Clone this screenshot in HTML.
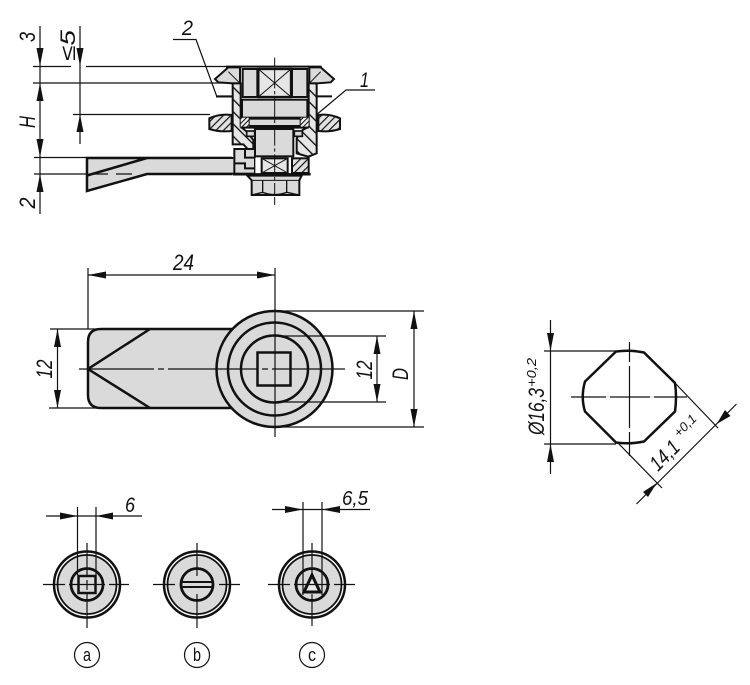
<!DOCTYPE html>
<html><head><meta charset="utf-8"><style>
html,body{margin:0;padding:0;background:#fff}
svg{display:block}
text{font-family:"Liberation Sans",sans-serif;font-style:italic;fill:#111}
.d{stroke:#111;stroke-width:1.2;fill:none}
.o{stroke:#111;stroke-width:2.5;fill:none}
.g{fill:#dadada;stroke:#111;stroke-width:2.5}
.a{fill:#111;stroke:none}
.c{stroke:#111;stroke-width:1.2;fill:none}
.m .g{stroke-width:6}
.m .k{stroke:#111;stroke-width:6;fill:none}
.m .t{stroke:#111;stroke-width:3;fill:none}
.m .h{stroke:#111;stroke-width:4;fill:none}
</style></head><body>
<svg width="750" height="685" viewBox="0 0 750 685" xmlns="http://www.w3.org/2000/svg">
<defs>
<pattern id="ha" width="26" height="26" patternUnits="userSpaceOnUse" patternTransform="rotate(-45)"><rect width="26" height="26" fill="#e6e6e6"/><rect width="4" height="26" fill="#111"/></pattern>
<pattern id="hs" width="10" height="10" patternUnits="userSpaceOnUse" patternTransform="rotate(45)"><rect width="10" height="10" fill="#eee"/><rect width="3" height="10" fill="#111"/></pattern>
<pattern id="hb" width="16" height="16" patternUnits="userSpaceOnUse" patternTransform="rotate(45)"><rect width="16" height="16" fill="#e2e2e2"/><rect width="3.500" height="16" fill="#111"/></pattern>
</defs>

<!-- TOP VIEW dimensions -->
<path class="d" d="M40 26V214M33 66.500H71M86 66.500H320M33 83H226M34 157.500H232M34 174H90M80 26V144M73 114.500H210"/>
<polygon class="a" points="40,66 36.500,48 43.500,48"/><polygon class="a" points="40,83 36.500,101 43.500,101"/>
<polygon class="a" points="40,157 36.500,139 43.500,139"/><polygon class="a" points="40,174 36.500,192 43.500,192"/>
<polygon class="a" points="80,66 76.500,48 83.500,48"/><polygon class="a" points="80,114.500 76.500,132 83.500,132"/>
<path class="d" d="M173 39.500H196L217 97"/><path d="M216 96.500H232" stroke="#111" stroke-width="2" fill="none"/>
<path class="d" d="M375 90H346L309 121"/>

<text transform="translate(35,37) rotate(-90)" font-size="22" text-anchor="middle" textLength="10" lengthAdjust="spacingAndGlyphs">3</text>
<text transform="translate(75,61) rotate(-90)" font-size="21" textLength="31" lengthAdjust="spacingAndGlyphs">≤5</text>
<text transform="translate(35,122) rotate(-90)" font-size="22" text-anchor="middle" textLength="12" lengthAdjust="spacingAndGlyphs">H</text>
<text transform="translate(35,203) rotate(-90)" font-size="22" text-anchor="middle" textLength="11" lengthAdjust="spacingAndGlyphs">2</text>
<text x="182" y="35" font-size="21" textLength="11" lengthAdjust="spacingAndGlyphs">2</text>
<text x="360" y="87" font-size="21" textLength="9" lengthAdjust="spacingAndGlyphs">1</text>

<!-- side arm -->
<polygon points="87,158 232,158 232,174 147,174 87,191" fill="#dadada"/>
<path class="o" d="M232 158H87V191L147 174H232M87 175.500L147 158"/>
<path d="M92 174H108M116 174H132" stroke="#111" stroke-width="1.200"/>

<!-- mechanism, zoom coords -->
<g class="m" transform="translate(200,55) scale(.33333)">
<rect x="125" y="40" width="200" height="240" fill="#fff"/>
<polygon class="g" points="85,37 120,37 120,85 98,85 55,82 45,72"/>
<polygon class="g" points="362,37 328,37 328,85 350,85 392,82 402,72"/>
<path class="t" d="M85 50L120 85M362 50L328 85"/>
<polygon fill="url(#ha)" stroke="#111" stroke-width="6" points="98,85 122,85 122,215 140,230 160,255 160,300 130,268 98,268"/>
<polygon fill="url(#ha)" stroke="#111" stroke-width="6" points="350,85 326,85 326,215 308,225 290,250 290,295 325,305 350,295"/>
<rect class="g" x="128" y="42" width="44" height="84"/>
<rect class="g" x="276" y="42" width="46" height="84"/>
<rect x="175" y="42" width="98" height="84" fill="#e6e6e6" stroke="#111" stroke-width="7"/>
<path class="t" d="M175 42L273 126M273 42L175 126"/>
<rect class="g" x="126" y="134" width="196" height="54"/>
<rect class="g" x="146" y="191" width="156" height="22"/>
<rect x="122" y="188" width="24" height="32" fill="url(#hs)"/>
<rect x="302" y="188" width="24" height="32" fill="url(#hs)"/>
<path d="M122 218H326" stroke="#111" stroke-width="6"/>
<path d="M28 190Q60 175 95 180V228Q60 232 28 222Z" fill="url(#hb)" stroke="#111" stroke-width="6"/>
<path d="M420 190Q388 175 355 180V228Q388 232 420 222Z" fill="url(#hb)" stroke="#111" stroke-width="6"/>
<rect class="g" x="165" y="222" width="115" height="82"/>
<rect x="140" y="228" width="24" height="16" fill="#dadada" stroke="#111" stroke-width="5"/>
<rect x="283" y="228" width="24" height="16" fill="#dadada" stroke="#111" stroke-width="5"/>
<rect x="0" y="310" width="100" height="46" fill="#dadada"/>
<path class="k" d="M0 309H100M0 356H100"/>
<rect class="g" x="103" y="282" width="62" height="74"/>
<path class="k" d="M105 325H135V340H165M135 282V308H165"/>
<rect x="166" y="308" width="160" height="48" fill="#fff"/>
<rect x="185" y="310" width="78" height="44" fill="#e6e6e6" stroke="#111" stroke-width="6"/>
<path class="t" d="M185 310L263 354M263 310L185 354"/>
<rect x="276" y="310" width="50" height="44" fill="url(#hb)" stroke="#111" stroke-width="6"/>
<path d="M98 358H332" stroke="#111" stroke-width="7"/>
<polygon class="g" points="142,362 305,362 298,376 298,420 155,420 155,376"/>
<path class="t" d="M155 376H298"/>
<path class="h" d="M188 376V412L155 420M260 376V412L298 420M188 412Q224 425 260 412"/>
<path d="M224 8V34M224 40V420M224 426V450" stroke="#111" stroke-width="3" stroke-dasharray="60 8 10 8"/>
<path class="k" d="M78 35H365"/>
<path class="k" d="M52 124H96M352 124H396"/>
</g>

<!-- MIDDLE VIEW -->
<path class="g" d="M235 329H101Q88 329 88 342V395Q88 408 101 408H235Z"/>
<path class="o" d="M150 329L88 369L150 408"/>
<circle class="g" cx="274.500" cy="369" r="58"/>
<circle class="o" cx="274.500" cy="369" r="46.500"/>
<circle class="o" cx="274.500" cy="369" r="33.500"/>
<rect x="257.500" y="352.500" width="33" height="33" fill="none" stroke="#111" stroke-width="2.500"/>
<path class="c" d="M79 369H154M158 369H164M168 369H258M262 369H268M272 369H345" stroke-width="1.300"/>
<path class="d" d="M88 268V329M275 268V437M88 275H275M50 329H100M49 408H100M57.500 329V408M275 336H386M275 402H386M377 336V402M275 311H424M275 427H424M414 311V427"/>
<polygon class="a" points="88,275 106,271.500 106,278.500"/><polygon class="a" points="275,275 257,271.500 257,278.500"/>
<polygon class="a" points="57.500,329 54,347 61,347"/><polygon class="a" points="57.500,408 54,390 61,390"/>
<polygon class="a" points="377,336 373.500,354 380.500,354"/><polygon class="a" points="377,402 373.500,384 380.500,384"/>
<polygon class="a" points="414,311 410.500,329 417.500,329"/><polygon class="a" points="414,427 410.500,409 417.500,409"/>
<text x="173" y="270" font-size="22" textLength="21" lengthAdjust="spacingAndGlyphs">24</text>
<text transform="translate(52,369) rotate(-90)" font-size="22" text-anchor="middle" textLength="19" lengthAdjust="spacingAndGlyphs">12</text>
<text transform="translate(372,370) rotate(-90)" font-size="22" text-anchor="middle" textLength="19" lengthAdjust="spacingAndGlyphs">12</text>
<text transform="translate(408,374) rotate(-90)" font-size="22" text-anchor="middle" textLength="12" lengthAdjust="spacingAndGlyphs">D</text>

<!-- OCTAGON -->
<path class="o" d="M616 351.500Q630 349.500 644 352.500L675 383Q677 397 675 411.500L644 441.500Q630 444.500 616 442.500L585 411.500Q580.500 397 585 381.500Z"/>
<path class="d" d="M629.500 342V456M571 397H687M544 351H616M544 444H616M550.500 320V474M675 383L718 428M618 443L662 488M636.500 504L736.500 404"/>
<path d="M629.500 362V366M629.500 428V432M606 397H610M650 397H654" stroke="#fff" stroke-width="1.600"/>
<polygon class="a" points="550.500,351 547,333 554,333"/><polygon class="a" points="550.500,444 547,462 554,462"/>
<polygon class="a" points="656.700,483 643,492 648,497"/><polygon class="a" points="716.700,424 725,410 730.500,416"/>
<text transform="translate(544,435) rotate(-90)" font-size="22" textLength="47" lengthAdjust="spacingAndGlyphs">Ø16,3</text>
<text transform="translate(536,387) rotate(-90)" font-size="13" textLength="29" lengthAdjust="spacingAndGlyphs">+0,2</text>
<text transform="translate(658,472) rotate(-45)" font-size="21" textLength="33" lengthAdjust="spacingAndGlyphs">14,1</text>
<text transform="translate(679,438) rotate(-45)" font-size="13" textLength="26" lengthAdjust="spacingAndGlyphs">+0,1</text>

<!-- BOTTOM ROW -->
<g>
<circle cx="87" cy="584.500" r="33" fill="#fff" stroke="#111" stroke-width="2.500"/>
<circle cx="87" cy="584.500" r="29.500" fill="#dadada" stroke="#111" stroke-width="1.800"/>
<circle cx="87" cy="584.500" r="16" fill="#dadada" stroke="#111" stroke-width="2.800"/>
<rect x="78.500" y="576" width="17" height="17" fill="none" stroke="#111" stroke-width="2.500"/>
<path class="c" d="M87 543V576M87 580V590M87 594V628M43 584.500H65M69 584.500H105M109 584.500H129"/>
</g>
<g>
<circle cx="197" cy="584.500" r="33" fill="#fff" stroke="#111" stroke-width="2.500"/>
<circle cx="197" cy="584.500" r="29.500" fill="#dadada" stroke="#111" stroke-width="1.800"/>
<circle cx="197" cy="584.500" r="16" fill="#dadada" stroke="#111" stroke-width="2.800"/>
<path d="M181 582H213M181 587H213" stroke="#111" stroke-width="2"/>
<path class="c" d="M197 543V576M197 594V628M153 584.500H175M219 584.500H240"/>
</g>
<g>
<circle cx="312" cy="584.500" r="33" fill="#fff" stroke="#111" stroke-width="2.500"/>
<circle cx="312" cy="584.500" r="29.500" fill="#dadada" stroke="#111" stroke-width="1.800"/>
<circle cx="312" cy="584.500" r="16" fill="#dadada" stroke="#111" stroke-width="2.800"/>
<polygon points="312,575 304,592 320,592" fill="#e8e8e8" stroke="#111" stroke-width="3"/>
<path class="c" d="M312 543V578M312 594V626M268 584.500H290M294 584.500H330M334 584.500H355"/>
</g>
<path class="d" d="M77.500 507V575M96 507V575M46 516H142"/>
<polygon class="a" points="77.500,516 60,512.500 60,519.500"/><polygon class="a" points="96,516 113,512.500 113,519.500"/>
<path class="d" d="M303 502V595M322 502V595M272 509.500H370"/>
<polygon class="a" points="303,509.500 285,506 285,513"/><polygon class="a" points="322,509.500 340,506 340,513"/>
<text x="125" y="512" font-size="21" textLength="10" lengthAdjust="spacingAndGlyphs">6</text>
<text x="342" y="505" font-size="20" textLength="26" lengthAdjust="spacingAndGlyphs">6,5</text>

<circle class="d" cx="87" cy="655" r="12.500"/><circle class="d" cx="197" cy="655" r="12.500"/><circle class="d" cx="312" cy="655" r="12.500"/>
<text x="87" y="661" font-size="18" text-anchor="middle" style="font-style:normal" textLength="8" lengthAdjust="spacingAndGlyphs">a</text>
<text x="197" y="661" font-size="18" text-anchor="middle" style="font-style:normal" textLength="8" lengthAdjust="spacingAndGlyphs">b</text>
<text x="312" y="661" font-size="18" text-anchor="middle" style="font-style:normal" textLength="8" lengthAdjust="spacingAndGlyphs">c</text>
</svg>
</body></html>
